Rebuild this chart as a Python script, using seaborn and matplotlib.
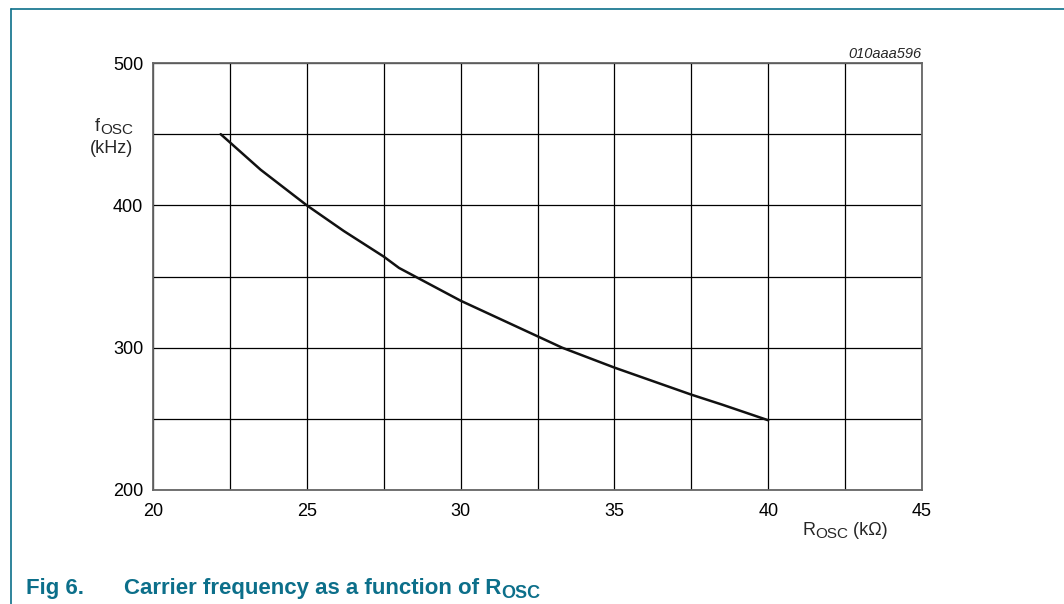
import matplotlib
matplotlib.use("Agg")
import matplotlib.pyplot as plt
import seaborn as sns
import pandas as pd
from matplotlib.lines import Line2D

# values
r_osc = [22.2, 23.5, 25.0, 26.2, 27.5, 28.0, 30.0, 31.0, 32.5, 33.3, 35.0, 37.5, 38.5, 40.0]
f_osc = [450, 425, 400, 382, 364, 356, 333, 323, 308, 300, 286, 267, 260, 249]

x_ticks = [20, 25, 30, 35, 40, 45]
y_ticks = [200, 300, 400, 500]

TEAL = "#0c6f8a"
W, H = 1064, 604

sns.set_theme(style="white")
plt.rcParams["font.family"] = ["Liberation Sans", "DejaVu Sans"]

df = pd.DataFrame({"R": r_osc, "f": f_osc})

fig = plt.figure(figsize=(W / 100, H / 100), dpi=100)
ax = fig.add_axes([153 / W, 1 - 490 / H, (922 - 153) / W, (490 - 63) / H])

sns.lineplot(data=df, x="R", y="f", ax=ax, color="#111111", linewidth=1.8)

ax.set_xlim(20, 45)
ax.set_ylim(200, 500)
xt = [20 + 2.5 * i for i in range(11)]
yt = [200 + 50 * i for i in range(7)]
ax.set_xticks(xt)
ax.set_yticks(yt)
ax.set_xticklabels([str(int(t)) if t in x_ticks else "" for t in xt])
ax.set_yticklabels([str(int(t)) if t in y_ticks else "" for t in yt])
ax.tick_params(axis="both", length=0, labelsize=13, colors="black")
ax.tick_params(axis="x", pad=9)
ax.tick_params(axis="y", pad=7)
ax.grid(True, color="black", linewidth=0.9)
for s in ax.spines.values():
    s.set_color("#666666")
    s.set_linewidth(1.3)
ax.set_xlabel("")
ax.set_ylabel("")

renderer = fig.canvas.get_renderer()


def px(x, y):
    return x / W, 1 - y / H


def width_of(t):
    return t.get_window_extent(renderer).width


# y axis label: f + subscript OSC, right edge at x=133
sub = fig.text(*px(133, 134), "OSC", ha="right", va="baseline", fontsize=11)
fx = 133 - width_of(sub)
fig.text(*px(fx, 131), "f", ha="right", va="baseline", fontsize=13)
fig.text(*px(133, 153), "(kHz)", ha="right", va="baseline", fontsize=13)

# x axis label: R + subscript OSC + (kOhm)
t1 = fig.text(*px(802, 535), "R", ha="left", va="baseline", fontsize=13)
x2 = 802 + width_of(t1)
t2 = fig.text(*px(x2, 538), "OSC", ha="left", va="baseline", fontsize=11)
x3 = x2 + width_of(t2)
fig.text(*px(x3, 535), " (k\u03a9)", ha="left", va="baseline", fontsize=13)

fig.text(*px(921, 58), "010aaa596", ha="right", va="baseline", fontsize=10.5, style="italic")

# frame lines and caption
fig.add_artist(Line2D([11 / W, 1], [1 - 9 / H, 1 - 9 / H], color=TEAL, linewidth=1.2))
fig.add_artist(Line2D([11 / W, 11 / W], [0, 1 - 9 / H], color=TEAL, linewidth=1.2))
fig.text(*px(26, 594), "Fig 6.", color=TEAL, fontsize=16, fontweight="bold", va="baseline")
c1 = fig.text(*px(124, 594), "Carrier frequency as a function of R", color=TEAL,
              fontsize=16, fontweight="bold", va="baseline")
cx = 124 + width_of(c1)
fig.text(*px(cx, 598), "OSC", color=TEAL, fontsize=13, fontweight="bold", va="baseline")

fig.savefig("out.png", dpi=100)
